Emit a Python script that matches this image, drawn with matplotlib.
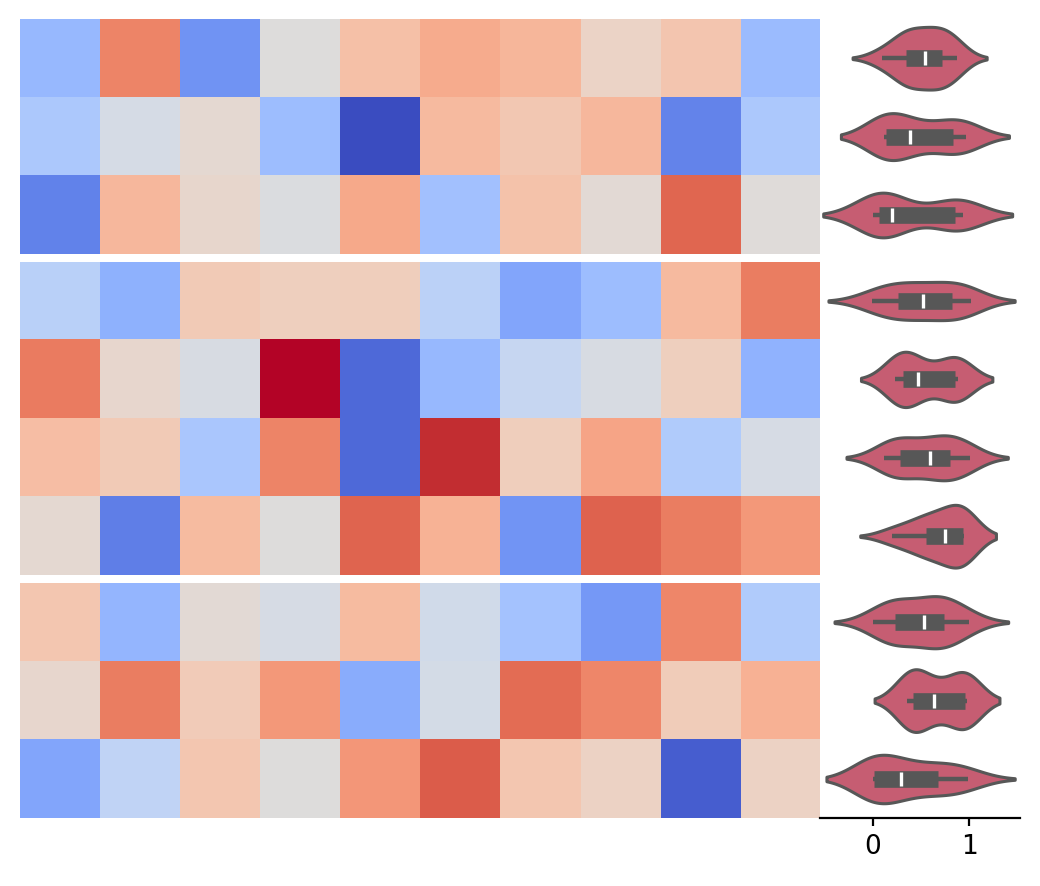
import matplotlib.pyplot as plt
import numpy as np
import pandas as pd
import seaborn as sns

# heatmap values (0..1), split into the three row groups
heat_a = [
    [0.28, 0.80, 0.17, 0.50, 0.64, 0.70, 0.67, 0.56, 0.62, 0.29],
    [0.34, 0.47, 0.53, 0.30, 0.00, 0.66, 0.61, 0.665, 0.13, 0.34],
    [0.125, 0.665, 0.545, 0.49, 0.71, 0.31, 0.63, 0.52, 0.86, 0.51],
]
heat_b = [
    [0.38, 0.255, 0.60, 0.58, 0.585, 0.385, 0.22, 0.30, 0.66, 0.815],
    [0.82, 0.54, 0.48, 1.00, 0.07, 0.28, 0.42, 0.48, 0.58, 0.26],
    [0.645, 0.60, 0.335, 0.80, 0.07, 0.96, 0.585, 0.72, 0.355, 0.475],
    [0.53, 0.12, 0.655, 0.50, 0.865, 0.68, 0.175, 0.87, 0.815, 0.75],
]
heat_c = [
    [0.615, 0.27, 0.52, 0.475, 0.655, 0.455, 0.32, 0.185, 0.795, 0.355],
    [0.54, 0.815, 0.595, 0.75, 0.24, 0.465, 0.85, 0.795, 0.59, 0.685],
    [0.22, 0.40, 0.615, 0.50, 0.755, 0.88, 0.615, 0.565, 0.04, 0.565],
]

# observations shown by the violins, one list per heatmap row
violin_a = [
    [0.10, 0.33, 0.34, 0.36, 0.52, 0.57, 0.66, 0.73, 0.80, 0.87],
    [0.12, 0.13, 0.13, 0.14, 0.33, 0.44, 0.70, 0.87, 0.92, 0.96],
    [0.00, 0.05, 0.06, 0.10, 0.17, 0.23, 0.80, 0.87, 0.90, 0.93],
]
violin_b = [
    [-0.01, 0.12, 0.24, 0.34, 0.48, 0.57, 0.76, 0.84, 0.93, 1.02],
    [0.23, 0.28, 0.30, 0.34, 0.40, 0.54, 0.84, 0.855, 0.87, 0.886],
    [0.12, 0.22, 0.26, 0.35, 0.55, 0.64, 0.74, 0.82, 0.90, 1.006],
    [0.20, 0.40, 0.54, 0.59, 0.72, 0.78, 0.93, 0.94, 0.94, 0.945],
]
violin_c = [
    [0.006, 0.20, 0.22, 0.28, 0.50, 0.57, 0.70, 0.75, 0.80, 1.00],
    [0.358, 0.40, 0.41, 0.43, 0.55, 0.72, 0.94, 0.96, 0.965, 0.972],
    [0.00, 0.01, 0.015, 0.02, 0.25, 0.33, 0.55, 0.71, 0.85, 0.99],
]

violin_color = '#c65d72'

W, H = 1040, 887
cell = 78.4
gap = 7.6

fig = plt.figure(figsize=(W / 100, H / 100), dpi=100)


def px_axes(x0, y0, w, h):
    # axes placed with pixel coordinates measured from the top left
    return fig.add_axes([x0 / W, 1 - (y0 + h) / H, w / W, h / H])


groups = [(heat_a, violin_a), (heat_b, violin_b), (heat_c, violin_c)]
y_top = 20
for k, (hm, vd) in enumerate(groups):
    n = len(hm)
    h = n * cell

    ax = px_axes(20, y_top, 800, h)
    ax.imshow(np.array(hm), cmap='coolwarm', vmin=0, vmax=1,
              aspect='auto', interpolation='nearest')
    ax.axis('off')

    axv = px_axes(820, y_top, 200, h)
    df = pd.DataFrame({
        'value': np.concatenate(vd),
        'row': np.repeat(np.arange(n), [len(v) for v in vd]),
    })
    sns.violinplot(data=df, x='value', y='row', orient='h', ax=axv,
                   color=violin_color, saturation=1, linewidth=2.2,
                   inner_kws=dict(box_width=12, whis_width=3.2,
                                  solid_capstyle='butt'))
    axv.set_xlim(-0.545, 1.523)
    axv.set_ylim(n - 0.5, -0.5)
    axv.set_xlabel('')
    axv.set_ylabel('')
    axv.set_yticks([])
    for side in ['top', 'right', 'left']:
        axv.spines[side].set_visible(False)
    if k == len(groups) - 1:
        axv.spines['bottom'].set_linewidth(1.6)
        axv.set_xticks([0, 1])
        axv.tick_params(axis='x', labelsize=19, length=6, width=1.6, pad=5)
    else:
        axv.spines['bottom'].set_visible(False)
        axv.set_xticks([])

    y_top += h + gap

fig.savefig('out.png', dpi=100)
